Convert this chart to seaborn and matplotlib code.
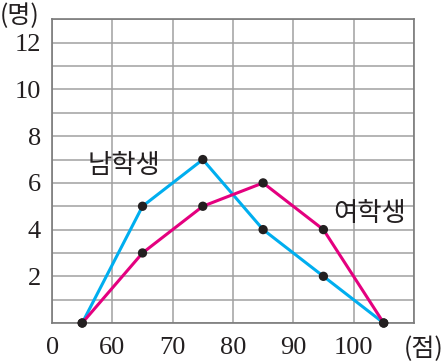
import numpy as np
import pandas as pd
import matplotlib.pyplot as plt
import seaborn as sns

# scores (class midpoints) and counts
score = [55, 65, 75, 85, 95, 105]
boys = [0, 5, 7, 4, 2, 0]
girls = [0, 3, 5, 6, 4, 0]
x_ticks = [50, 60, 70, 80, 90, 100, 110]
x_labels = ['0', '60', '70', '80', '90', '100', '']
y_ticks = list(range(0, 14))
y_labels = ['' if (v % 2 or v == 0) else str(v) for v in y_ticks]

sns.set_style('white')
plt.rcParams['font.family'] = ['Liberation Serif', 'Noto Sans CJK KR']

df = pd.DataFrame({'score': score * 2,
                   'count': boys + girls,
                   'group': ['남학생'] * 6 + ['여학생'] * 6})

fig = plt.figure(figsize=(4.45, 3.64), dpi=100)
ax = fig.add_axes([0.117, 0.1126, 0.813, 0.834])

sns.lineplot(data=df, x='score', y='count', hue='group',
             palette={'남학생': '#00aeef', '여학생': '#e4007f'},
             linewidth=2.2, legend=False, ax=ax, zorder=3)
sns.scatterplot(data=df, x='score', y='count', color='#231f20', s=45,
                edgecolor='none', legend=False, ax=ax, zorder=4, clip_on=False)

ax.set_xlim(50, 110)
ax.set_ylim(0, 13)
ax.set_xticks(x_ticks)
ax.set_xticklabels(x_labels)
ax.set_yticks(y_ticks)
ax.set_yticklabels(y_labels)
ax.grid(True, color='#a0a0a0', linewidth=1.1)
ax.set_axisbelow(True)
for s in ax.spines.values():
    s.set_color('#7a7a7a')
    s.set_linewidth(1.2)
ax.tick_params(length=0, labelsize=19, colors='#231f20')
ax.tick_params(axis='x', pad=10)
ax.tick_params(axis='y', pad=8)
ax.set_xlabel('')
ax.set_ylabel('')

kfont = ['Noto Sans CJK KR']
ax.text(111.6, -1.1, '(점)', fontsize=18, ha='center', va='center',
        family=kfont, color='#231f20', clip_on=False)
ax.text(44.6, 13.15, '(명)', fontsize=18, ha='center', va='center',
        family=kfont, color='#231f20', clip_on=False)
ax.text(62, 6.75, '남학생', fontsize=19, ha='center', va='center',
        family=kfont, color='#231f20')
ax.text(102.7, 4.7, '여학생', fontsize=19, ha='center', va='center',
        family=kfont, color='#231f20')

fig.savefig('out.png', dpi=100)
